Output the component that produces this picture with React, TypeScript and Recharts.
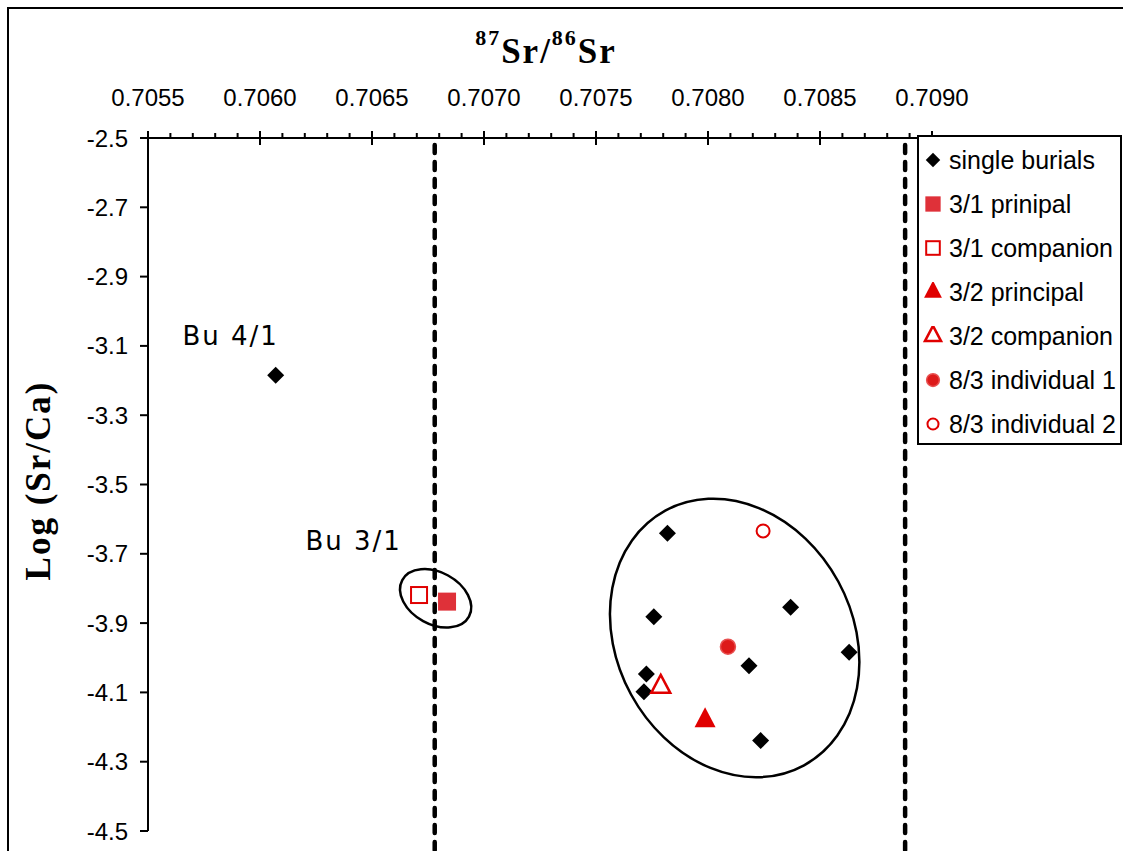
import React from "react";
import {
  ScatterChart,
  Scatter,
  XAxis,
  YAxis,
  ReferenceLine,
  Legend,
  Label,
} from "recharts";

// 87Sr/86Sr vs Log(Sr/Ca)
const singleBurials = [
  { x: 0.70607, y: -3.185 },
  { x: 0.707819, y: -3.641 },
  { x: 0.708369, y: -3.854 },
  { x: 0.707758, y: -3.882 },
  { x: 0.70863, y: -3.984 },
  { x: 0.708183, y: -4.023 },
  { x: 0.707725, y: -4.047 },
  { x: 0.707714, y: -4.098 },
  { x: 0.708235, y: -4.239 },
];
const principal31 = [{ x: 0.706835, y: -3.838 }];
const companion31 = [{ x: 0.70671, y: -3.819 }];
const principal32 = [{ x: 0.707987, y: -4.181 }];
const companion32 = [{ x: 0.707789, y: -4.084 }];
const individual1 = [{ x: 0.708089, y: -3.968 }];
const individual2 = [{ x: 0.708246, y: -3.634 }];

// local range bounds (dashed lines)
const rangeBounds = [0.70678, 0.70888];

// group outlines (centres) and point labels
const group31Centre = [{ x: 0.706784, y: -3.8285 }];
const clusterCentre = [{ x: 0.708119, y: -3.943 }];
const pointLabels = [
  { x: 0.705869, y: -3.0986, label: "Bu 4/1" },
  { x: 0.706418, y: -3.6893, label: "Bu 3/1" },
];

const xMajorTicks = [0.7055, 0.706, 0.7065, 0.707, 0.7075, 0.708, 0.7085, 0.709];
const yTicks = [-2.5, -2.7, -2.9, -3.1, -3.3, -3.5, -3.7, -3.9, -4.1, -4.3, -4.5];
const xTicks = xMajorTicks.flatMap((m, i) =>
  i === xMajorTicks.length - 1
    ? [m]
    : [0, 1, 2, 3, 4].map((k) => +(m + k * 0.0001).toFixed(4))
);

const RED = "#E00000";
const SANS = "'Liberation Sans', Arial, sans-serif";
const SERIF = "'Liberation Serif', 'Times New Roman', serif";

type Kind = "diamond" | "square" | "openSquare" | "triangle" | "openTriangle" | "circle" | "openCircle";

function marker(kind: Kind, cx: number, cy: number, s = 1) {
  switch (kind) {
    case "diamond": {
      const r = 8.5 * s;
      return <path d={`M${cx},${cy - r}L${cx + r},${cy}L${cx},${cy + r}L${cx - r},${cy}Z`} fill="#000" />;
    }
    case "square": {
      const h = 9 * s;
      return <rect x={cx - h} y={cy - h} width={2 * h} height={2 * h} fill="#DF3139" />;
    }
    case "openSquare": {
      const h = 8 * s;
      return <rect x={cx - h} y={cy - h} width={2 * h} height={2 * h} fill="#fff" stroke={RED} strokeWidth={2} />;
    }
    case "triangle": {
      const w = 10.5 * s, h = 20 * s;
      return <path d={`M${cx},${cy - (2 * h) / 3}L${cx + w},${cy + h / 3}L${cx - w},${cy + h / 3}Z`} fill={RED} />;
    }
    case "openTriangle": {
      const w = 9.5 * s, h = 18 * s;
      return (
        <path
          d={`M${cx},${cy - (2 * h) / 3}L${cx + w},${cy + h / 3}L${cx - w},${cy + h / 3}Z`}
          fill="#fff"
          stroke={RED}
          strokeWidth={2.5}
        />
      );
    }
    case "circle":
      return <circle cx={cx} cy={cy} r={7.5 * s} fill="#DD1A1A" stroke="#E85050" strokeWidth={1.5} />;
    case "openCircle":
      return <circle cx={cx} cy={cy} r={6.5 * s} fill="#fff" stroke={RED} strokeWidth={2} />;
  }
}

const seriesKinds: Record<string, Kind> = {
  "single burials": "diamond",
  "3/1 prinipal": "square",
  "3/1 companion": "openSquare",
  "3/2 principal": "triangle",
  "3/2 companion": "openTriangle",
  "8/3 individual 1": "circle",
  "8/3 individual 2": "openCircle",
};
const legendOrder = Object.keys(seriesKinds);

const shapeFor = (kind: Kind) => (p: any) => marker(kind, p.cx, p.cy);

const ellipseShape = (rx: number, ry: number, angle: number) => (p: any) => (
  <ellipse
    cx={p.cx}
    cy={p.cy}
    rx={rx}
    ry={ry}
    transform={`rotate(${angle} ${p.cx} ${p.cy})`}
    fill="none"
    stroke="#000"
    strokeWidth={2.5}
  />
);

const labelShape = (p: any) => (
  <text
    x={p.cx}
    y={p.cy}
    textAnchor="middle"
    fontFamily="'DejaVu Sans', Verdana, sans-serif"
    fontSize={26}
    letterSpacing={2}
    fill="#000"
  >
    {p.payload.label}
  </text>
);

function TopTick({ x, y, payload }: any) {
  const v = payload.value;
  const major = xMajorTicks.some((m) => Math.abs(m - v) < 1e-9);
  return (
    <g>
      <line x1={x} x2={x} y1={major ? y - 7 : y - 5} y2={major ? y + 7 : y + 1} stroke="#000" strokeWidth={2} />
      {major && (
        <text x={x} y={y - 32} textAnchor="middle" fontSize={24} fill="#000" fontFamily={SANS}>
          {v.toFixed(4)}
        </text>
      )}
    </g>
  );
}

function XTitle({ viewBox }: any) {
  const cx = viewBox.x + viewBox.width / 2 + 6;
  return (
    <text x={cx} y={viewBox.y + 54} textAnchor="middle" fontFamily={SERIF} fontWeight="bold" fontSize={35} letterSpacing={2} fill="#000">
      <tspan fontSize={22} dy={-18}>87</tspan>
      <tspan dy={18}>Sr/</tspan>
      <tspan fontSize={22} dy={-18}>86</tspan>
      <tspan dy={18}>Sr</tspan>
    </text>
  );
}

function YTitle({ viewBox }: any) {
  const x = viewBox.x + 41;
  const y = viewBox.y + viewBox.height / 2 - 4;
  return (
    <text
      x={x}
      y={y}
      transform={`rotate(-90 ${x} ${y})`}
      textAnchor="middle"
      fontFamily={SERIF}
      fontWeight="bold"
      fontSize={35}
      letterSpacing={2}
      fill="#000"
    >
      Log (Sr/Ca)
    </text>
  );
}

function LegendBox({ payload }: any) {
  const items = legendOrder
    .map((name) => (payload || []).find((p: any) => p.value === name))
    .filter(Boolean);
  return (
    <div
      style={{
        boxSizing: "border-box",
        width: 205,
        height: 310,
        border: "2px solid #000",
        background: "#fff",
        paddingTop: 1,
        fontFamily: SANS,
        fontSize: 25,
        color: "#000",
      }}
    >
      {items.map((p: any) => (
        <div key={p.value} style={{ display: "flex", alignItems: "center", height: 44 }}>
          <svg width={20} height={20} style={{ marginLeft: 4, flex: "none" }}>
            {marker(seriesKinds[p.value], 10, 10, 0.85)}
          </svg>
          <span style={{ marginLeft: 6, whiteSpace: "nowrap", lineHeight: "25px" }}>{p.value}</span>
        </div>
      ))}
    </div>
  );
}

export default function App() {
  return (
    <div style={{ position: "fixed", left: 0, top: 0, width: 1123, height: 851, overflow: "hidden", background: "#fff" }}>
      <div
        style={{
          position: "absolute",
          left: 7,
          top: 7,
          width: 1150,
          height: 880,
          border: "2px solid #000",
          background: "#fff",
          fontFamily: SANS,
        }}
      >
        <ScatterChart width={1150} height={880} margin={{ top: 0, right: 227, bottom: 58, left: 0 }}>
          <XAxis
            type="number"
            dataKey="x"
            orientation="top"
            domain={[0.7055, 0.709]}
            ticks={xTicks}
            interval={0}
            tick={<TopTick />}
            tickLine={false}
            tickSize={0}
            tickMargin={0}
            height={129}
            axisLine={{ stroke: "#000", strokeWidth: 2 }}
            allowDataOverflow
          >
            <Label content={<XTitle />} />
          </XAxis>
          <YAxis
            type="number"
            dataKey="y"
            domain={[-4.5, -2.5]}
            ticks={yTicks}
            interval={0}
            tickFormatter={(v: number) => v.toFixed(1)}
            tick={{ fontSize: 24, fill: "#000" }}
            tickLine={{ stroke: "#000", strokeWidth: 2 }}
            tickSize={8}
            tickMargin={12}
            width={139}
            axisLine={{ stroke: "#000", strokeWidth: 2 }}
            allowDataOverflow
          >
            <Label content={<YTitle />} />
          </YAxis>
          {rangeBounds.map((b) => (
            <ReferenceLine
              key={b}
              segment={[
                { x: b, y: -2.52 },
                { x: b, y: -4.65 },
              ]}
              ifOverflow="visible"
              stroke="#000"
              strokeWidth={4.5}
              strokeLinecap="round"
              strokeDasharray="8 9"
            />
          ))}
          <Scatter name="group31" data={group31Centre} shape={ellipseShape(38, 26, 28.7)} legendType="none" isAnimationActive={false} />
          <Scatter name="cluster" data={clusterCentre} shape={ellipseShape(118, 145, -28.6)} legendType="none" isAnimationActive={false} />
          <Scatter name="labels" data={pointLabels} shape={labelShape} legendType="none" isAnimationActive={false} />
          <Scatter name="single burials" data={singleBurials} fill="#000" shape={shapeFor("diamond")} isAnimationActive={false} />
          <Scatter name="3/1 prinipal" data={principal31} fill="#DF3139" shape={shapeFor("square")} isAnimationActive={false} />
          <Scatter name="3/1 companion" data={companion31} fill={RED} shape={shapeFor("openSquare")} isAnimationActive={false} />
          <Scatter name="3/2 principal" data={principal32} fill={RED} shape={shapeFor("triangle")} isAnimationActive={false} />
          <Scatter name="3/2 companion" data={companion32} fill={RED} shape={shapeFor("openTriangle")} isAnimationActive={false} />
          <Scatter name="8/3 individual 1" data={individual1} fill={RED} shape={shapeFor("circle")} isAnimationActive={false} />
          <Scatter name="8/3 individual 2" data={individual2} fill={RED} shape={shapeFor("openCircle")} isAnimationActive={false} />
          <Legend
            layout="vertical"
            align="center"
            verticalAlign="middle"
            content={<LegendBox />}
            wrapperStyle={{ left: 908, top: 126, width: 205, height: 310 }}
          />
        </ScatterChart>
      </div>
    </div>
  );
}
